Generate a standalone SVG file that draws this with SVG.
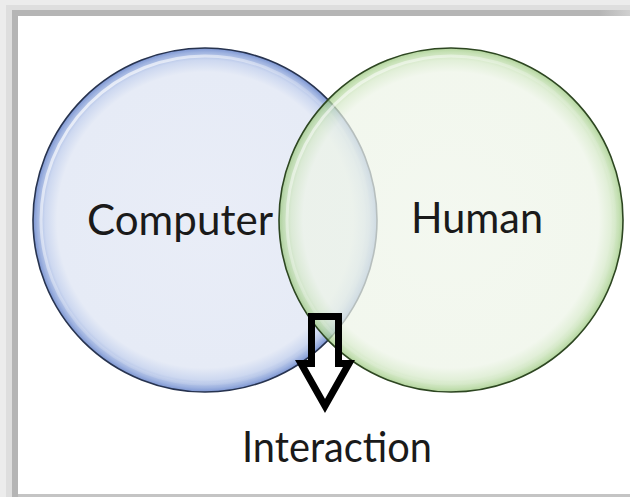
<svg xmlns="http://www.w3.org/2000/svg" width="630" height="497" viewBox="0 0 630 497">
<defs>
<radialGradient id="gBlue" cx="0.5" cy="0.5" r="0.5">
<stop offset="0" stop-color="#e9edf7"/>
<stop offset="0.86" stop-color="#e6ebf6"/>
<stop offset="0.93" stop-color="#cdd8f0"/>
<stop offset="0.975" stop-color="#9fb3e0"/>
<stop offset="1" stop-color="#7c95d2"/>
</radialGradient>
<radialGradient id="gGreen" cx="0.5" cy="0.5" r="0.5">
<stop offset="0" stop-color="#eff5ea"/>
<stop offset="0.86" stop-color="#edf4e7"/>
<stop offset="0.93" stop-color="#d6e9c9"/>
<stop offset="0.975" stop-color="#b2d69b"/>
<stop offset="1" stop-color="#95c477"/>
</radialGradient>
<linearGradient id="gShine" x1="0" y1="0" x2="1" y2="1">
<stop offset="0" stop-color="#ffffff" stop-opacity="0.9"/>
<stop offset="0.45" stop-color="#ffffff" stop-opacity="0.2"/>
<stop offset="1" stop-color="#ffffff" stop-opacity="0"/>
</linearGradient>
<linearGradient id="gTop" x1="0" y1="0" x2="1" y2="0">
<stop offset="0" stop-color="#b5b5b5"/>
<stop offset="0.95" stop-color="#b5b5b5"/>
<stop offset="1" stop-color="#d0d0d0"/>
</linearGradient>
</defs>
<style>
.lbl{font-family:Lato,"Open Sans","Liberation Sans",sans-serif;font-size:42px;fill:#1a1a1a}
.arrow{fill:none;stroke:#000;stroke-width:7;stroke-linejoin:miter;stroke-miterlimit:10}
</style>
<g id="frame">
<rect x="0" y="0" width="630" height="497" fill="#ececec"/>
<rect x="6" y="5" width="624" height="492" fill="#dedede"/>
<rect x="12" y="10" width="618" height="487" fill="url(#gTop)"/>
<rect x="18" y="16" width="612" height="478" fill="#ffffff"/>
<rect x="18" y="494" width="612" height="3" fill="#c4c4c4"/>
</g>
<g id="computer">
<circle cx="205" cy="220" r="172" fill="url(#gBlue)" stroke="#27334f" stroke-width="1.6"/>
<circle cx="205" cy="220" r="164" fill="none" stroke="url(#gShine)" stroke-width="3"/>
<text class="lbl" x="87" y="235" textLength="186" lengthAdjust="spacingAndGlyphs">Computer</text>
</g>
<g id="human">
<circle cx="451" cy="220" r="172" fill="url(#gGreen)" fill-opacity="0.72" stroke="#2d4621" stroke-width="1.6"/>
<circle cx="451" cy="220" r="164" fill="none" stroke="url(#gShine)" stroke-width="3" opacity="0.8"/>
<text class="lbl" x="411" y="233" textLength="132" lengthAdjust="spacingAndGlyphs">Human</text>
</g>
<g id="connectors">
<path class="arrow" d="M311.5,316.5 L338.5,316.5 L338.5,363.5 L349,363.5 L325,406 L301,363.5 L311.5,363.5 Z"/>
</g>
<g id="interaction">
<text class="lbl" x="242" y="462" textLength="190" lengthAdjust="spacingAndGlyphs">Interaction</text>
</g>
</svg>
